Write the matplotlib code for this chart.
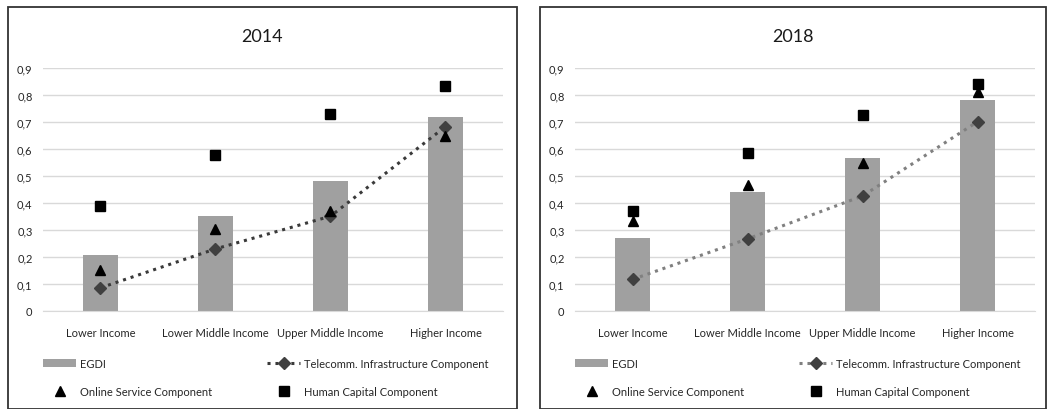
import numpy as np
import matplotlib
matplotlib.use("Agg")
import matplotlib.pyplot as plt
from matplotlib.patches import Rectangle
from matplotlib.ticker import FuncFormatter

plt.rcParams['font.family'] = ['Lato', 'DejaVu Sans']

categories = ["Lower Income", "Lower Middle Income", "Upper Middle Income", "Higher Income"]
years = ["2014", "2018"]

egdi_2014 = [0.207, 0.351, 0.482, 0.72]
telecom_2014 = [0.086, 0.23, 0.351, 0.683]
online_2014 = [0.152, 0.305, 0.37, 0.65]
human_2014 = [0.389, 0.579, 0.728, 0.835]

egdi_2018 = [0.27, 0.441, 0.565, 0.782]
telecom_2018 = [0.117, 0.267, 0.426, 0.701]
online_2018 = [0.333, 0.468, 0.55, 0.81]
human_2018 = [0.369, 0.585, 0.725, 0.84]

panels = [
    (egdi_2014, telecom_2014, online_2014, human_2014, "#3a3a3a"),
    (egdi_2018, telecom_2018, online_2018, human_2018, "#808080"),
]

W, H = 1049, 410
fig = plt.figure(figsize=(W / 100, H / 100), dpi=100)

# panel frames (left, right in px)
frames = [(8, 517), (540, 1046)]
axes_left = [43, 575]


def comma(v, pos):
    if abs(v) < 1e-9:
        return "0"
    return f"{v:.1f}".replace(".", ",")


x = np.arange(len(categories))
for i, (egdi, tel, onl, hum, lcol) in enumerate(panels):
    fl, fr = frames[i]
    al = axes_left[i]
    fig.patches.append(Rectangle((fl / W, 0), (fr - fl) / W, (H - 8) / H,
                                 transform=fig.transFigure, fill=False,
                                 edgecolor="#333333", linewidth=1.3))
    fig.text((fl + fr) / 2 / W, (H - 37) / H, years[i], ha="center",
             va="center", fontsize=13, color="#1a1a1a")

    ax = fig.add_axes([al / W, (H - 312) / H, 460 / W, 243 / H])
    b = ax.bar(x, egdi, width=0.31, color="#a0a0a0", label="EGDI", zorder=2)
    t, = ax.plot(x, tel, linestyle=(0, (1, 1.6)), linewidth=2.2, color=lcol,
                 marker="D", markersize=6.5, markerfacecolor="#404040",
                 markeredgecolor="#404040", label="Telecomm. Infrastructure Component",
                 zorder=3)
    o, = ax.plot(x, onl, linestyle="none", marker="^", markersize=7.5,
                 color="black", label="Online Service Component", zorder=4)
    h, = ax.plot(x, hum, linestyle="none", marker="s", markersize=7,
                 color="black", label="Human Capital Component", zorder=4)

    ax.set_xlim(-0.5, 3.5)
    ax.set_ylim(0, 0.9)
    ax.set_yticks(np.arange(0, 0.91, 0.1))
    ax.yaxis.set_major_formatter(FuncFormatter(comma))
    ax.set_xticks(x)
    ax.set_xticklabels(categories)
    ax.tick_params(length=0, labelsize=8, colors="#262626", pad=7.5)
    ax.tick_params(axis="x", pad=11.5)
    ax.grid(axis="y", color="#d9d9d9", linewidth=1, zorder=0)
    ax.set_axisbelow(True)
    for s in ["top", "right", "left"]:
        ax.spines[s].set_visible(False)
    ax.spines["bottom"].set_color("#d9d9d9")

    # two legend columns placed by hand
    cols = [([b, o], ["EGDI", "Online Service Component"], al),
            ([t, h], ["Telecomm. Infrastructure Component", "Human Capital Component"], al + 224)]
    for handles, labels, xpx in cols:
        leg = fig.legend(handles, labels, loc="upper left",
                         bbox_to_anchor=(xpx / W, (H - 359) / H),
                         bbox_transform=fig.transFigure, frameon=False,
                         fontsize=8, handlelength=3.0, handletextpad=0.36,
                         labelspacing=1.5, borderaxespad=0, borderpad=0)
        for txt in leg.get_texts():
            txt.set_color("#262626")

fig.savefig("out.png", dpi=100)
